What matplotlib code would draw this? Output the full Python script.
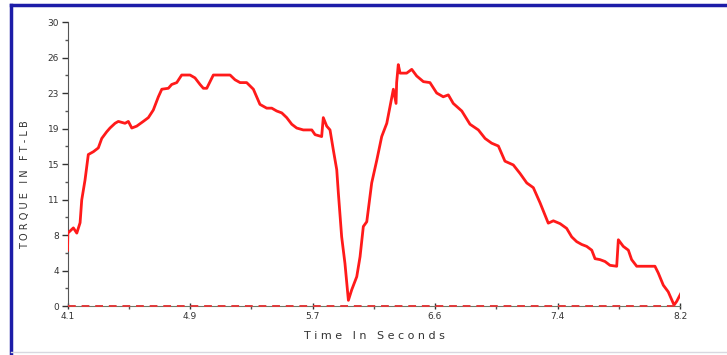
import matplotlib.pyplot as plt
from matplotlib.lines import Line2D
from matplotlib.ticker import FixedLocator

# torque trace (seconds, ft-lb)
time_s = [4.100, 4.102, 4.139, 4.162, 4.184, 4.195, 4.217, 4.239, 4.273, 4.306,
          4.329, 4.362, 4.384, 4.418, 4.440, 4.485, 4.507, 4.530, 4.563, 4.607,
          4.641, 4.674, 4.708, 4.731, 4.775, 4.797, 4.831, 4.864, 4.920, 4.953,
          4.987, 5.009, 5.032, 5.076, 5.188, 5.221, 5.255, 5.299, 5.344, 5.366,
          5.388, 5.433, 5.467, 5.500, 5.534, 5.567, 5.601, 5.634, 5.678, 5.735,
          5.757, 5.801, 5.812, 5.835, 5.857, 5.879, 5.902, 5.913, 5.935, 5.957,
          5.980, 6.002, 6.036, 6.058, 6.080, 6.103, 6.136, 6.170, 6.203, 6.237,
          6.259, 6.281, 6.299, 6.303, 6.314, 6.326, 6.370, 6.404, 6.437, 6.482,
          6.526, 6.571, 6.615, 6.649, 6.682, 6.739, 6.794, 6.850, 6.895, 6.939,
          6.984, 7.028, 7.084, 7.129, 7.174, 7.218, 7.263, 7.318, 7.352, 7.397,
          7.441, 7.475, 7.508, 7.542, 7.575, 7.609, 7.631, 7.664, 7.698, 7.731,
          7.776, 7.787, 7.820, 7.854, 7.876, 7.910, 8.032, 8.054, 8.088, 8.121,
          8.160, 8.178, 8.211]
torque = [5.9, 7.7, 8.25, 7.7, 8.8, 11.2, 13.3, 16.0, 16.3, 16.7,
          17.7, 18.4, 18.8, 19.3, 19.5, 19.3, 19.5, 18.8, 19.0, 19.5,
          19.9, 20.7, 22.1, 22.9, 23.0, 23.4, 23.6, 24.4, 24.4, 24.1,
          23.4, 23.0, 23.0, 24.4, 24.4, 23.9, 23.6, 23.6, 22.9, 22.1,
          21.3, 20.9, 20.9, 20.6, 20.4, 19.9, 19.2, 18.8, 18.6, 18.6,
          18.1, 17.9, 19.9, 19.0, 18.6, 16.5, 14.4, 11.9, 7.3, 4.5,
          0.6, 1.7, 3.1, 5.2, 8.4, 8.9, 13.0, 15.4, 17.9, 19.3,
          21.1, 22.9, 21.4, 23.6, 25.5, 24.6, 24.6, 25.0, 24.3, 23.7,
          23.6, 22.5, 22.1, 22.3, 21.4, 20.6, 19.2, 18.6, 17.7, 17.2,
          16.9, 15.3, 14.9, 14.0, 13.0, 12.5, 10.9, 8.75, 9.0, 8.7,
          8.2, 7.3, 6.8, 6.5, 6.3, 5.9, 5.0, 4.9, 4.7, 4.3,
          4.2, 7.0, 6.3, 5.9, 4.9, 4.2, 4.2, 3.5, 2.2, 1.5,
          0.1, 0.5, 1.5]

x_ticks = [4.1, 4.92, 5.74, 6.56, 7.38, 8.2]
x_labels = ['4.1', '4.9', '5.7', '6.6', '7.4', '8.2']
y_ticks = [0, 3.75, 7.5, 11.25, 15, 18.75, 22.5, 26.25, 30]
y_labels = ['0', '4', '8', '11', '15', '19', '23', '26', '30']

fig = plt.figure(figsize=(7.27, 3.55), dpi=100)
ax = fig.add_axes([0.0929, 0.138, 0.8425, 0.80])

ax.plot(time_s, torque, color='#ff1a1a', lw=2.0, zorder=3)
ax.axhline(0, color='#e03a3a', lw=1.4, ls=(0, (4, 3)), zorder=4, clip_on=False)

ax.set_xlim(4.1, 8.2)
ax.set_ylim(0, 30)
ax.set_xticks(x_ticks)
ax.set_xticklabels(x_labels)
ax.set_yticks(y_ticks)
ax.set_yticklabels(y_labels)
ax.xaxis.set_minor_locator(FixedLocator([(a + b) / 2 for a, b in zip(x_ticks[:-1], x_ticks[1:])]))
ax.yaxis.set_minor_locator(FixedLocator([(a + b) / 2 for a, b in zip(y_ticks[:-1], y_ticks[1:])]))
ax.tick_params(which='major', length=4, width=1, color='#333333', labelsize=6.5,
               labelcolor='#333333', pad=2)
ax.tick_params(which='minor', length=2.5, width=1, color='#555555')
ax.tick_params(axis='x', direction='inout')

for s in ['top', 'right']:
    ax.spines[s].set_visible(False)
ax.spines['left'].set_color('#555555')
ax.spines['bottom'].set_color('#6f7a6a')

fig.text(0.034, 0.48, 'T O R Q U E   I N   F T - L B', rotation=90, ha='center',
         va='center', fontsize=7, color='#333333')
fig.text(0.515, 0.053, 'T i m e   I n   S e c o n d s', ha='center', va='center',
         fontsize=8, color='#333333')

# scanned frame around the chart
fig.add_artist(Line2D([0.0151, 0.0151], [0, 0.985], color='#1c1ca8', lw=2.5))
fig.add_artist(Line2D([0.0151, 1.0], [0.985, 0.985], color='#1c1ca8', lw=2.5))
fig.add_artist(Line2D([0.0151, 1.0], [0.008, 0.008], color='#d8d8e0', lw=1))

fig.savefig('out.png', dpi=100)
